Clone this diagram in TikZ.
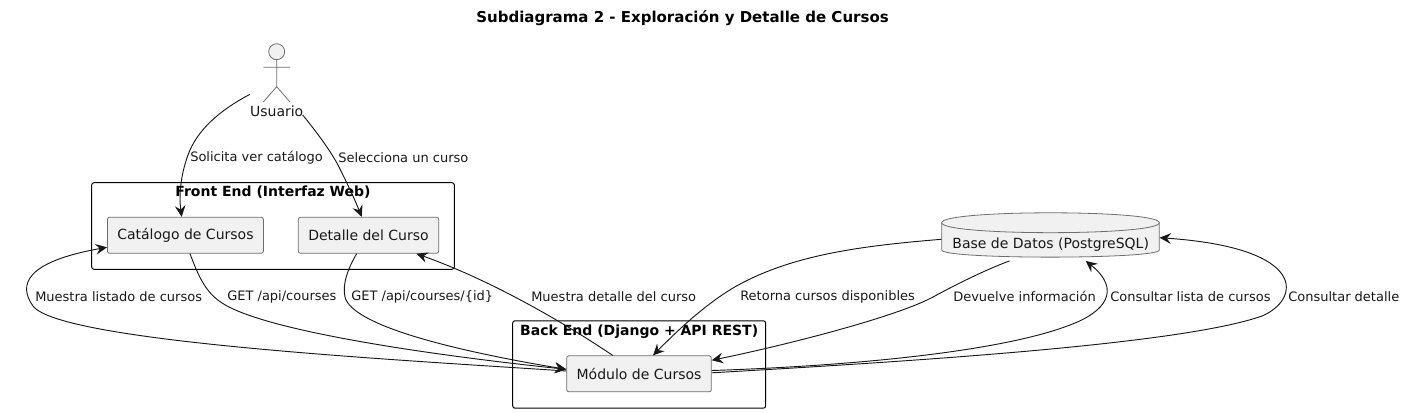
\documentclass[tikz,border=0pt]{standalone}
\usepackage{fontspec}
\setmainfont{DejaVu Sans}
\usetikzlibrary{arrows.meta,calc}
\definecolor{ink}{HTML}{181818}
\definecolor{boxfill}{HTML}{F1F1F1}
\definecolor{edge}{HTML}{6E6E6E}
\tikzset{
  px/.style={x=0.75pt,y=-0.75pt},
  comp/.style={draw=edge,fill=boxfill,line width=0.6pt,rounded corners=1.6pt,inner sep=0pt,minimum height=27pt,font=\fontsize{10.5}{12}\selectfont,text=ink},
  frame/.style={draw=black,line width=0.75pt,rounded corners=1.8pt,inner sep=0pt},
  frametitle/.style={font=\fontsize{10.5}{12}\selectfont\bfseries,text=black,inner sep=0pt},
  lbl/.style={font=\fontsize{9.75}{12}\selectfont,text=ink,anchor=west,inner sep=0pt},
  conn/.style={draw=ink,line width=0.7pt,-{Stealth[length=8.5pt,width=8pt,inset=3pt]}},
  shapeline/.style={draw=edge,line width=0.6pt},
}
\begin{document}
\begin{tikzpicture}[px]
\useasboundingbox (0,0) rectangle (1405,413);
\node[font=\fontsize{11.25}{13}\selectfont\bfseries,inner sep=0pt] (title) at (682.5,18) {Subdiagrama 2 - Exploración y Detalle de Cursos};
% frames
\node[frame,minimum width=272pt,minimum height=65pt] (front) at (273,226) {};
\node[frametitle] (frontt) at (273,192.5) {Front End (Interfaz Web)};
\node[frame,minimum width=189.75pt,minimum height=65.6pt] (back) at (639.2,364.5) {};
\node[frametitle] (backt) at (639.2,331.5) {Back End (Django + API REST)};
% components
\node[comp,minimum width=117pt] (cat) at (185.4,235.3) {Catálogo de Cursos};
\node[comp,minimum width=105.3pt] (det) at (368.5,235.3) {Detalle del Curso};
\node[comp,minimum width=108.5pt] (mod) at (639,373.8) {Módulo de Cursos};
% actor
\draw[shapeline,fill=boxfill] (276.7,51.7) circle[radius=8];
\draw[shapeline] (276.7,59.7) -- (276.7,86.7) (263.3,67.3) -- (290,67.3) (263.3,102) -- (276.7,86.7) -- (290,102);
\node[font=\fontsize{10.5}{12}\selectfont,text=ink,inner sep=0pt] (usr) at (276.7,111) {Usuario};
% database
\draw[shapeline,fill=boxfill] (941.7,222.7) .. controls (941.7,209.5) and (1159.3,209.5) .. (1159.3,222.7) -- (1159.3,250) .. controls (1159.3,259.5) and (941.7,259.5) .. (941.7,250) -- cycle;
\draw[shapeline] (941.7,222.7) .. controls (941.7,236) and (1159.3,236) .. (1159.3,222.7);
\node[minimum width=163.2pt,minimum height=33.5pt,inner sep=0pt] (db) at (1050.5,235) {};
\node[font=\fontsize{10.5}{12}\selectfont,text=ink,inner sep=0pt] (dbt) at (1050.7,245) {Base de Datos (PostgreSQL)};
% connectors
\draw[conn] ($(usr)+(-26.7,-16.7)$) .. controls (220,110) and (197,130) .. (188,155) .. controls (180,177) and (179,197) .. ($(cat.north)+(-3.7,0)$);
\draw[conn] ($(usr)+(26,4)$) .. controls (315,130) and (330,150) .. (338,165) .. controls (348,185) and (355,200) .. ($(det.north)+(-6.8,0)$);
\draw[conn] ($(cat.south)+(4.6,0)$) .. controls (198,275) and (205,292) .. (222,303) .. controls (265,331) and (430,355) .. ($(mod.west)+(0,-4.5)$);
\draw[conn] ($(det.south)+(-11.8,0)$) .. controls (348,268) and (342,285) .. (345,297) .. controls (352,325) and (450,350) .. ($(mod.west)+(0,-4.5)$);
\draw[conn] ($(mod.west)+(0,-2.8)$) .. controls (400,360) and (60,342) .. (33,306) .. controls (18,285) and (25,262) .. ($(cat.west)+(0,12)$);
\draw[conn] ($(mod.north)+(-26.3,0)$) .. controls (560,320) and (490,280) .. ($(det.south)+(48,0)$);
\draw[conn] ($(db.west)+(0,4.3)$) .. controls (860,246) and (790,255) .. (733,288) .. controls (705,305) and (680,328) .. ($(mod.north)+(14,0)$);
\draw[conn] ($(db.south)+(-41,3.3)$) .. controls (985,270) and (955,285) .. (933,297) .. controls (900,315) and (800,342) .. ($(mod.east)+(0,-13.5)$);
\draw[conn] ($(mod.east)+(0,-3.3)$) .. controls (850,366) and (1000,352) .. (1070,325) .. controls (1105,312) and (1122,290) .. ($(db.south)+(35.2,3.3)$);
\draw[conn] ($(mod.east)+(0,-1)$) .. controls (900,362) and (1180,345) .. (1262,316) .. controls (1300,300) and (1310,248) .. ($(db.east)+(0,2.7)$);
% labels
\node[lbl] (l1) at (190,157.7) {Solicita ver catálogo};
\node[lbl] (l2) at (338,157.7) {Selecciona un curso};
\node[lbl] (l3) at (35,296.7) {Muestra listado de cursos};
\node[lbl] (l4) at (227,296.7) {GET /api/courses};
\node[lbl] (l5) at (351,296.7) {GET /api/courses/\{id\}};
\node[lbl] (l6) at (531,296.7) {Muestra detalle del curso};
\node[lbl] (l7) at (740,296.7) {Retorna cursos disponibles};
\node[lbl] (l8) at (953,296.7) {Devuelve información};
\node[lbl] (l9) at (1110,296.7) {Consultar lista de cursos};
\node[lbl] (l10) at (1288,296.7) {Consultar detalle};
\end{tikzpicture}
\end{document}
